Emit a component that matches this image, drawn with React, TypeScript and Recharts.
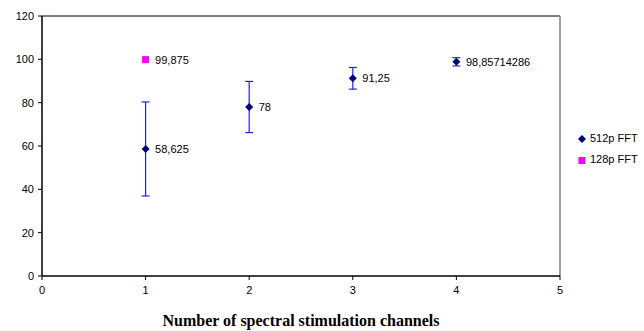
import { ScatterChart, Scatter, XAxis, YAxis, ErrorBar, LabelList, ReferenceLine } from 'recharts'

const channels512 = [1, 2, 3, 4]
const accuracy512 = [58.625, 78, 91.25, 98.85714286]
const error512 = [21.7, 11.8, 5, 1.9]

const channels128 = [1]
const accuracy128 = [99.875]

const xTicks = [0, 1, 2, 3, 4, 5]
const yTicks = [0, 20, 40, 60, 80, 100, 120]

const data512 = channels512.map((x, i) => ({ x, y: accuracy512[i], err: error512[i] }))
const data128 = channels128.map((x, i) => ({ x, y: accuracy128[i] }))

const fmt = (v: any) => String(v).replace('.', ',')

const Diamond = (props: any) => {
  const { cx, cy } = props
  if (cx == null || cy == null) return null
  return <polygon points={`${cx},${cy - 4} ${cx + 4},${cy} ${cx},${cy + 4} ${cx - 4},${cy}`} fill="#000080" />
}

const Square = (props: any) => {
  const { cx, cy } = props
  if (cx == null || cy == null) return null
  return <rect x={cx - 3.5} y={cy - 3.5} width={7} height={7} fill="#FF00FF" />
}

const tickStyle = { fontSize: 11, fontFamily: 'Arial, "Liberation Sans", sans-serif', fill: '#000' }

export default function App() {
  return (
    <div style={{ position: 'absolute', left: 0, top: 0, width: 644, height: 331, background: '#fff' }}>
      <ScatterChart width={644} height={331} margin={{ top: 16, right: 84, left: 0, bottom: 0 }}>
        <XAxis
          type="number"
          dataKey="x"
          domain={[0, 5]}
          ticks={xTicks}
          tick={tickStyle}
          tickSize={4}
          tickMargin={6}
          height={55}
          axisLine={{ stroke: '#000', strokeWidth: 1.5 }}
          tickLine={{ stroke: '#000' }}
          allowDataOverflow
        />
        <YAxis
          type="number"
          dataKey="y"
          domain={[0, 120]}
          ticks={yTicks}
          tick={tickStyle}
          tickSize={4}
          tickMargin={4}
          width={42}
          axisLine={{ stroke: '#000', strokeWidth: 1.5 }}
          tickLine={{ stroke: '#000' }}
          allowDataOverflow
        />
        <ReferenceLine y={120} stroke="#000" strokeWidth={1} />
        <ReferenceLine x={5} stroke="#808080" strokeWidth={1.5} />
        <Scatter name="512p FFT" data={data512} shape={<Diamond />} isAnimationActive={false}>
          <ErrorBar dataKey="err" direction="y" width={4} stroke="#2020FF" strokeWidth={1.2} />
          <LabelList dataKey="y" position="right" offset={5} formatter={fmt} style={tickStyle} />
        </Scatter>
        <Scatter name="128p FFT" data={data128} shape={<Square />} isAnimationActive={false}>
          <LabelList dataKey="y" position="right" offset={5} formatter={fmt} style={tickStyle} />
        </Scatter>
      </ScatterChart>
      <div
        style={{
          position: 'absolute',
          left: 42,
          width: 518,
          top: 312,
          textAlign: 'center',
          fontFamily: '"Times New Roman", "Liberation Serif", serif',
          fontWeight: 'bold',
          fontSize: 16,
          lineHeight: '18px',
          color: '#000',
        }}
      >
        Number of spectral stimulation channels
      </div>
      <div
        style={{
          position: 'absolute',
          left: 577,
          top: 128,
          fontFamily: 'Arial, "Liberation Sans", sans-serif',
          fontSize: 11,
          lineHeight: '21px',
          color: '#000',
        }}
      >
        <div style={{ display: 'flex', alignItems: 'center' }}>
          <svg width={10} height={10} style={{ marginRight: 3 }}>
            <polygon points="5,1 9,5 5,9 1,5" fill="#000080" />
          </svg>
          512p FFT
        </div>
        <div style={{ display: 'flex', alignItems: 'center' }}>
          <svg width={10} height={10} style={{ marginRight: 3 }}>
            <rect x={1.5} y={2} width={7} height={7} fill="#FF00FF" />
          </svg>
          128p FFT
        </div>
      </div>
    </div>
  )
}
